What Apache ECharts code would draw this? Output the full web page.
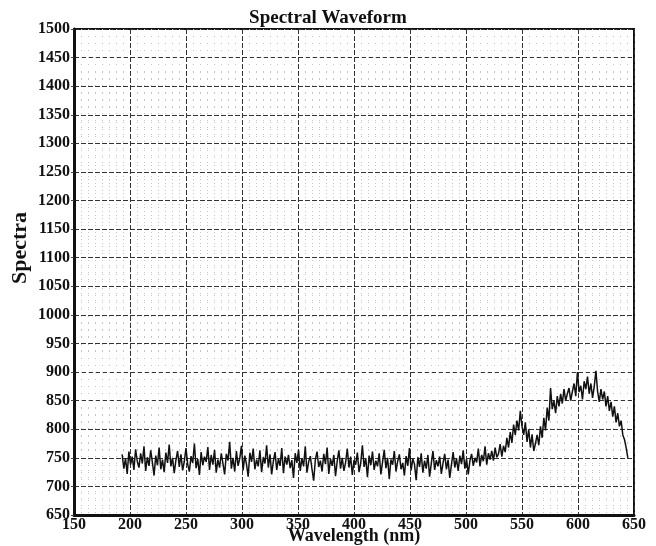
<!DOCTYPE html>
<html>
<head>
<meta charset="utf-8">
<script src="https://cdn.jsdelivr.net/npm/echarts@6/dist/echarts.min.js"></script>
<style>
  html, body { margin: 0; padding: 0; background: #fff; }
  #main { width: 656px; height: 546px; }
</style>
</head>
<body>
<div id="main"></div>
<script>
// wavelength sampling: first sample and spacing (nm)
var waveStart = 193;
var waveStep = 1.5;
// spectra, one value per sample
var spectra = [
  756, 731, 749, 722, 761, 738, 752, 729, 765, 744,
  733, 758, 740, 770, 727, 751, 736, 763, 742, 719,
  754, 737, 768, 730, 747, 725, 759, 741, 773, 735,
  750, 723, 746, 762, 734, 756, 728, 744, 767, 739,
  726, 753, 741, 775, 732, 748, 720, 760, 737, 752,
  743, 769, 729, 755, 738, 764, 724, 747, 733, 758,
  740, 721, 757, 745, 778, 731, 750, 726, 762, 736,
  749, 771, 728, 754, 739, 717, 759, 743, 766, 730,
  747, 735, 763, 725, 751, 740, 772, 733, 756, 721,
  744, 760, 729, 748, 736, 767, 723, 752, 738, 755,
  732, 746, 715, 758, 741, 764, 727, 749, 735, 770,
  724, 743, 753, 730, 710, 747, 761, 734, 745, 726,
  757, 739, 768, 722, 748, 736, 755, 718, 744, 763,
  731, 750, 727, 742, 766, 733, 752, 720, 746, 738,
  759, 725, 741, 772, 734, 749, 716, 754, 737, 761,
  729, 745, 735, 758, 721, 743, 764, 732, 750, 713,
  747, 738, 762, 726, 744, 756, 730, 741, 719, 753,
  736, 767, 728, 748, 739, 711, 751, 734, 758, 724,
  745, 731, 755, 717, 740, 762, 729, 746, 735, 752,
  722, 741, 757, 730, 747, 715, 738, 760, 733, 749,
  727, 754, 739, 763, 731, 748, 721, 745, 757, 736,
  750, 742, 766, 735, 755, 744, 770, 738, 758, 747,
  762, 745, 768, 751, 757, 774,
  752, 771, 760, 785, 768, 795, 776, 808, 790, 815,
  798, 832, 805, 790, 812, 778, 800, 768, 791, 762,
  775, 790, 772, 805, 785, 820, 798, 838, 815, 872,
  835, 850, 828, 858, 840, 862, 845, 870, 850, 862,
  872, 850, 866, 880, 858, 900, 865, 876, 852, 884,
  870, 892, 862, 880, 855, 875, 902, 866, 848, 870,
  852, 866, 840, 858, 832, 848, 822, 840, 812, 828,
  805, 815, 790, 782, 768, 750
];
var xRange = [150, 650];
var yRange = [650, 1500];

var points = [];
for (var i = 0; i < spectra.length; i++) {
  points.push([waveStart + i * waveStep, spectra[i]]);
}

var serif = '"Liberation Serif", "DejaVu Serif", serif';
var myChart = echarts.init(document.getElementById('main'));
var option = {
  animation: false,
  backgroundColor: '#fff',
  title: {
    text: 'Spectral Waveform',
    left: 'center',
    top: 4,
    textStyle: { fontFamily: serif, fontWeight: 'bold', fontSize: 19, color: '#111' }
  },
  graphic: [{
    type: 'text',
    left: 9,
    top: 212,
    rotation: Math.PI / 2,
    style: {
      text: 'Spectra',
      font: 'bold 22px ' + serif,
      fill: '#111'
    }
  }],
  grid: {
    left: 74, right: 22, top: 29, bottom: 31,
    outerBoundsMode: 'none',
    containLabel: false,
    show: true, borderColor: '#111', borderWidth: 2
  },
  xAxis: {
    type: 'value',
    min: xRange[0], max: xRange[1], interval: 50,
    name: 'Wavelength (nm)',
    nameLocation: 'middle',
    nameGap: 12,
    nameMoveOverlap: false,
    nameTextStyle: { fontFamily: serif, fontWeight: 'bold', fontSize: 18, color: '#111',
      verticalAlign: 'top' },
    axisLine: { show: true, lineStyle: { color: '#111', width: 3 } },
    axisTick: { show: false },
    axisLabel: { margin: 2, fontFamily: serif, fontWeight: 'bold', fontSize: 16, color: '#111',
      formatter: function (v) { return String(v); } },
    splitLine: { show: true, lineStyle: { color: '#333', width: 1, type: [5, 2] } },
    minorTick: { show: false, splitNumber: 8 },
    minorSplitLine: { show: true, lineStyle: { color: '#c4c4c4', width: 1, type: [1, 6] } }
  },
  yAxis: {
    type: 'value',
    min: yRange[0], max: yRange[1], interval: 50,
    axisLine: { show: true, lineStyle: { color: '#111', width: 3 } },
    axisTick: { show: true, length: 3, lineStyle: { color: '#444' } },
    axisLabel: { margin: 4, fontFamily: serif, fontWeight: 'bold', fontSize: 16, color: '#111',
      formatter: function (v) { return String(v); } },
    splitLine: { show: true, lineStyle: { color: '#333', width: 1, type: [5, 2] } },
    minorTick: { show: false, splitNumber: 4 },
    minorSplitLine: { show: true, lineStyle: { color: '#c4c4c4', width: 1, type: [1, 6] } }
  },
  series: [{
    type: 'line',
    data: points,
    showSymbol: false,
    lineStyle: { color: '#111', width: 1.5 }
  }]
};
myChart.setOption(option);
</script>
</body>
</html>
